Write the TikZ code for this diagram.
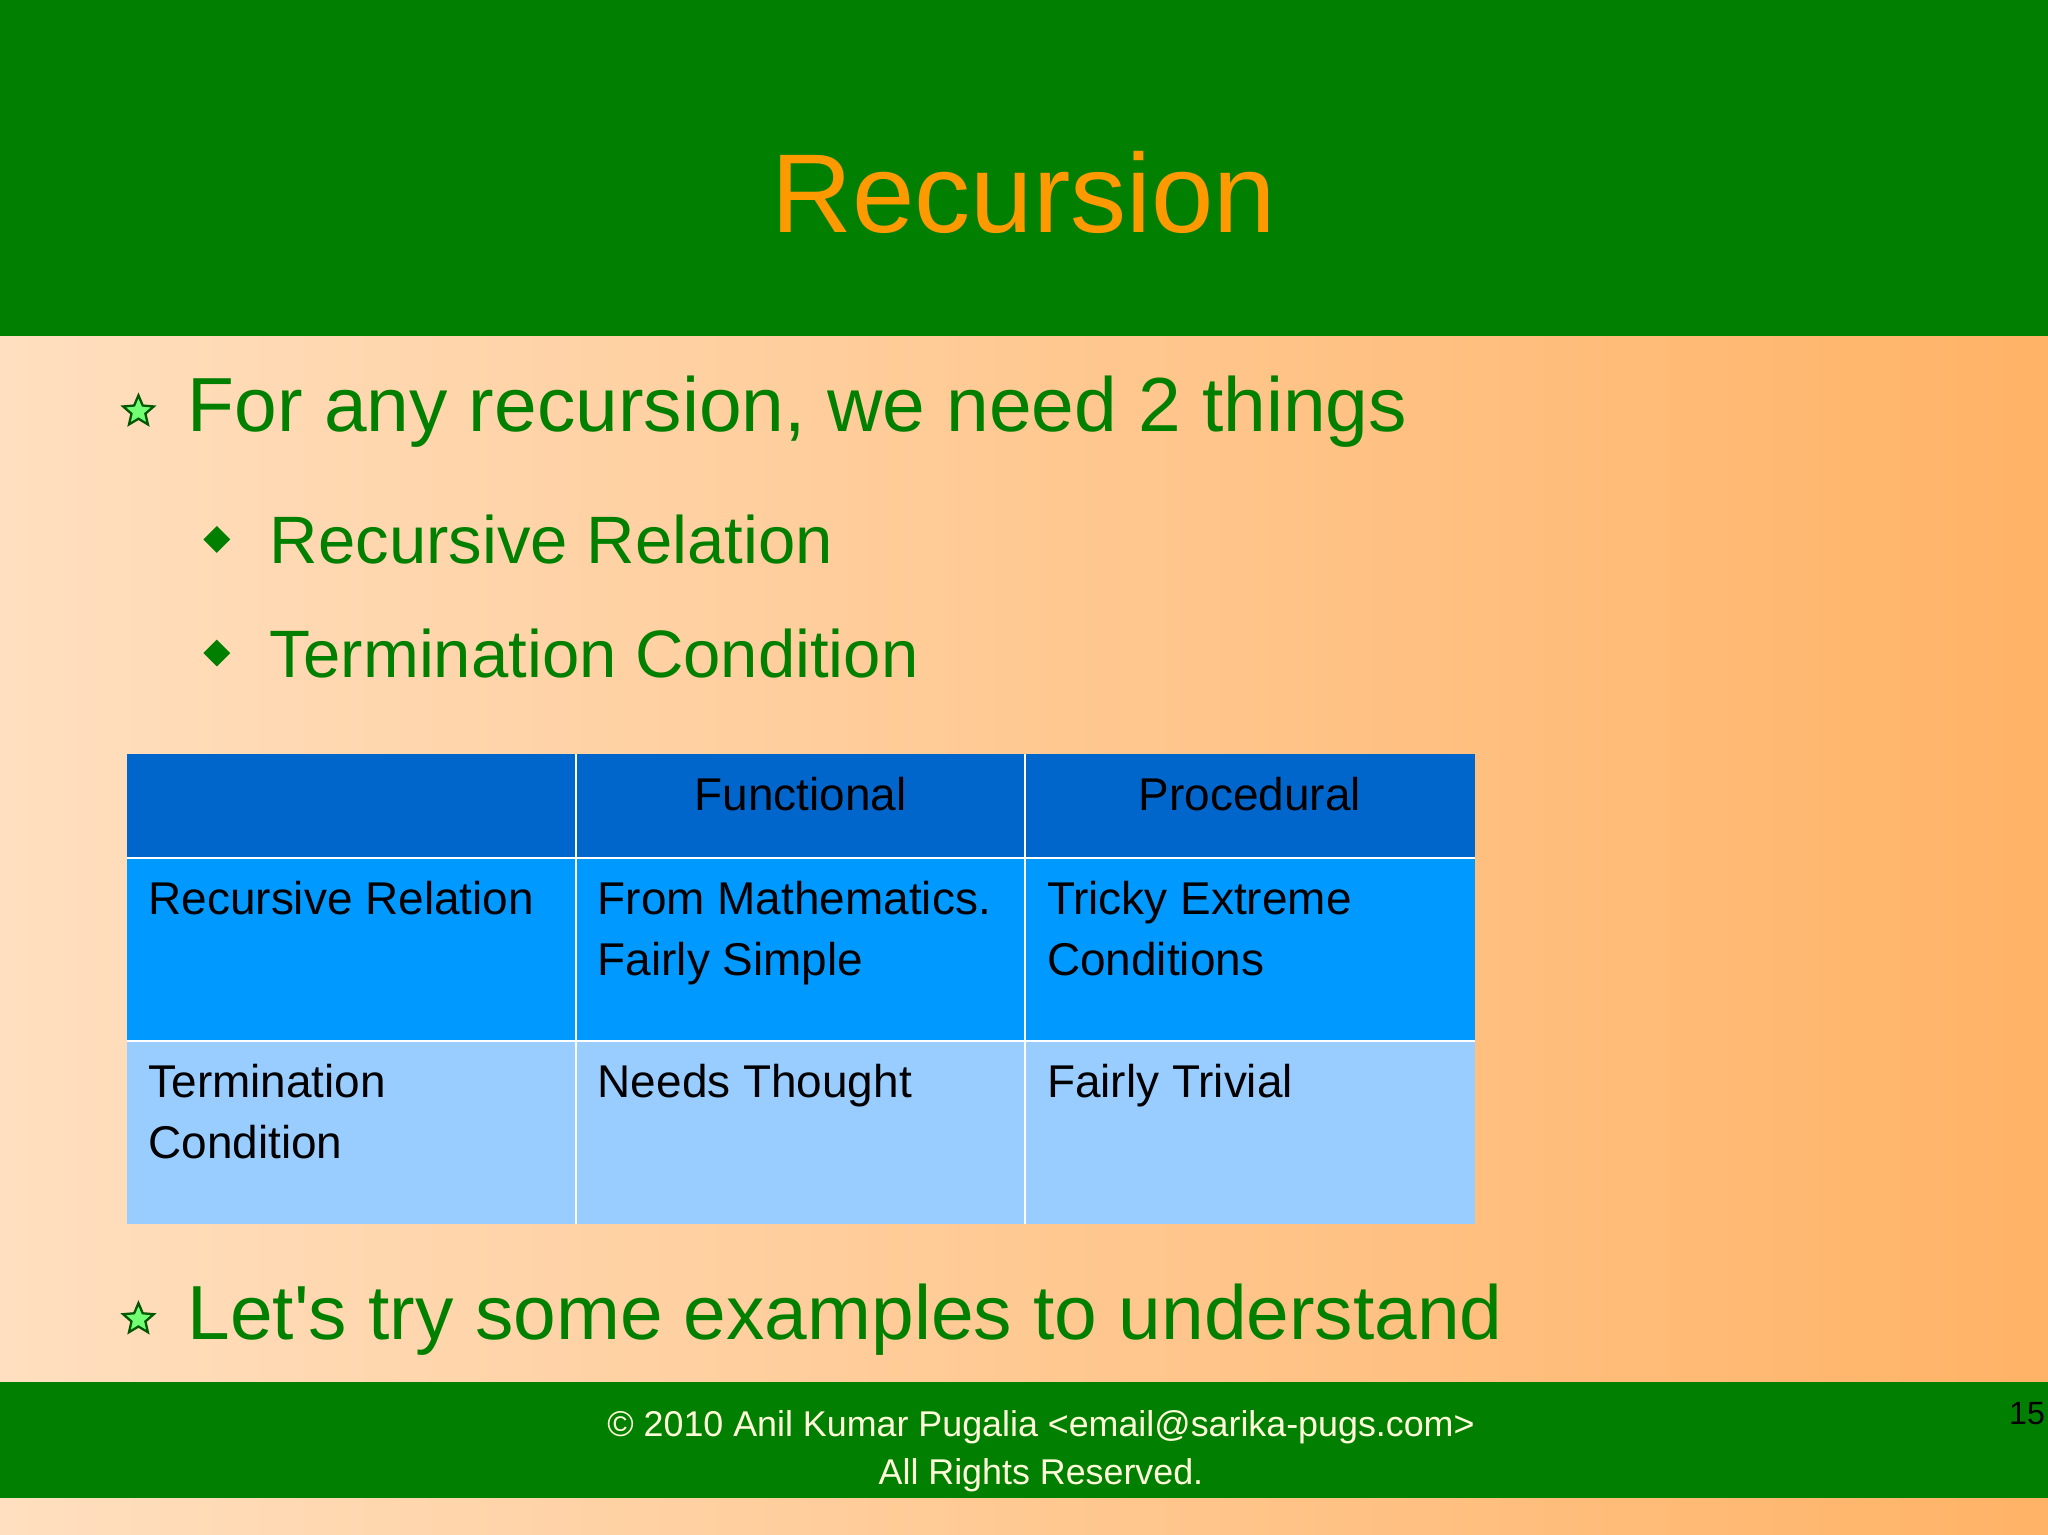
\documentclass[tikz,border=0pt]{standalone}
\usepackage{fontspec}
\setmainfont{Liberation Sans}
\usetikzlibrary{shapes.geometric,positioning,calc}
\definecolor{slidegreen}{HTML}{007F00}
\definecolor{titleorange}{HTML}{FF9900}
\definecolor{headblue}{HTML}{0066CC}
\definecolor{rowblue}{HTML}{0099FF}
\definecolor{paleblue}{HTML}{99CCFF}
\tikzset{
	bigtext/.style={anchor=west,text=slidegreen,font=\fontsize{16.7}{20}\selectfont,inner sep=0pt},
	subtext/.style={anchor=west,text=slidegreen,font=\fontsize{14.6}{17}\selectfont,inner sep=0pt},
	cell/.style={anchor=north west,align=left,font=\fontsize{10}{13.2}\selectfont,inner sep=0pt},
	headcell/.style={anchor=north,font=\fontsize{10}{13.2}\selectfont,inner sep=0pt},
	starbullet/.style={star,star points=5,star point ratio=2.2,draw=slidegreen!70!black,fill=green!55!white,minimum size=7pt,inner sep=0pt,line width=0.5pt},
	diabullet/.style={diamond,fill=slidegreen,minimum size=6pt,inner sep=0pt}
}
\begin{document}
\begin{tikzpicture}[x=0.01cm,y=-0.01cm]
	\useasboundingbox (0,0) rectangle (1568,1175);
	% background
	\shade[left color=orange!25!white,right color=orange!60!white] (0,0) rectangle (1568,1175);
	\fill[slidegreen] (0,0) rectangle (1568,257);
	\fill[slidegreen] (0,1058) rectangle (1568,1147);
	\node (title) at (784,147) [text=titleorange,font=\fontsize{24.4}{28}\selectfont] {Recursion};
	% bullets
	\node (s1) at (106,315) [starbullet] {};
	\node (b1) at (143,315) [bigtext] {For any recursion, we need 2 things};
	\node (d1) at (166,413) [diabullet] {};
	\node (b2) at (206,413) [subtext] {Recursive Relation};
	\node (d2) at (166,500) [diabullet] {};
	\node (b3) at (206,500) [subtext] {Termination Condition};
	% table
	\fill[headblue] (97,577) rectangle (1129,657);
	\fill[rowblue] (97,657) rectangle (1129,797);
	\fill[paleblue] (97,797) rectangle (1129,937);
	\draw[white,line width=0.4pt] (441,577) -- (441,937) (785,577) -- (785,937)
		(97,657) -- (1129,657) (97,797) -- (1129,797);
	\node (hf) at (613,594) [headcell] {Functional};
	\node (hp) at (957,594) [headcell] {Procedural};
	\node (r1) at (113,674) [cell] {Recursive Relation};
	\node (r1f) at (457,674) [cell] {From Mathematics.\\Fairly Simple};
	\node (r1p) at (801,674) [cell] {Tricky Extreme\\Conditions};
	\node (r2) at (113,814) [cell] {Termination\\Condition};
	\node (r2f) at (457,814) [cell] {Needs Thought};
	\node (r2p) at (801,814) [cell] {Fairly Trivial};
	\node (s2) at (106,1010) [starbullet] {};
	\node (b4) at (143,1010) [bigtext] {Let\textquotesingle s try some examples to understand};
	% footer
	\node (foot) at (797,1111) [align=center,text=white!85!yellow,font=\fontsize{7.8}{10.3}\selectfont] {© 2010 Anil Kumar Pugalia <email@sarika-pugs.com>\\All Rights Reserved.};
	\node (page) at (1552,1082) [font=\fontsize{7}{8}\selectfont] {15};
\end{tikzpicture}
\end{document}
